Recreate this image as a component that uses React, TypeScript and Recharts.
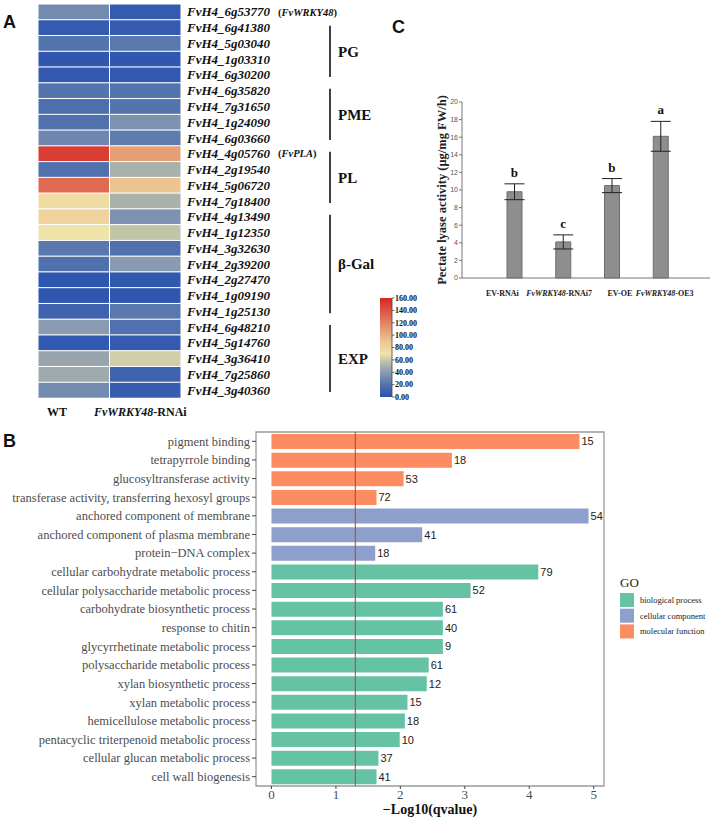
import {
  Bar,
  BarChart,
  Cell,
  ErrorBar,
  LabelList,
  ReferenceArea,
  ReferenceDot,
  ReferenceLine,
  XAxis,
  YAxis,
} from "recharts";

const SERIF = '"Liberation Serif", "Times New Roman", serif';
const SANS = '"Liberation Sans", Arial, sans-serif';

// ---- A: heatmap ----
const genes = [
  "FvH4_6g53770", "FvH4_6g41380", "FvH4_5g03040", "FvH4_1g03310", "FvH4_6g30200",
  "FvH4_6g35820", "FvH4_7g31650", "FvH4_1g24090", "FvH4_6g03660",
  "FvH4_4g05760", "FvH4_2g19540", "FvH4_5g06720", "FvH4_7g18400",
  "FvH4_4g13490", "FvH4_1g12350", "FvH4_3g32630", "FvH4_2g39200",
  "FvH4_2g27470", "FvH4_1g09190", "FvH4_1g25130",
  "FvH4_6g48210", "FvH4_5g14760", "FvH4_3g36410", "FvH4_7g25860", "FvH4_3g40360",
];
const wtValues = [32, 5, 20, 3, 4, 20, 17, 18, 30, 150, 18, 130, 75, 80, 70, 22, 18, 3, 3, 10, 40, 4, 45, 47, 32];
const rnaiValues = [5, 5, 22, 3, 4, 20, 20, 35, 24, 108, 50, 90, 50, 35, 58, 18, 40, 4, 3, 22, 18, 5, 62, 10, 6];
const geneNotes: Record<number, string> = { 0: "FvWRKY48", 9: "FvPLA" };
const geneGroups = [
  { name: "PG", from: 1, to: 4 },
  { name: "PME", from: 5, to: 8 },
  { name: "PL", from: 9, to: 12 },
  { name: "β-Gal", from: 13, to: 19 },
  { name: "EXP", from: 20, to: 24 },
];
const colorbarTicks = [0, 20, 40, 60, 80, 100, 120, 140, 160];

// ---- C: pectate lyase ----
const lyaseGroups = ["EV-RNAi", "FvWRKY48-RNAi7", "EV-OE", "FvWRKY48-OE3"];
const lyaseMeans = [9.8, 4.1, 10.5, 16.1];
const lyaseErrors = [0.9, 0.8, 0.8, 1.7];
const lyaseLetters = ["b", "c", "b", "a"];
const lyaseTicks = [0, 2, 4, 6, 8, 10, 12, 14, 16, 18, 20];

// ---- B: GO enrichment ----
const goTerms = [
  "pigment binding",
  "tetrapyrrole binding",
  "glucosyltransferase activity",
  "transferase activity, transferring hexosyl groups",
  "anchored component of membrane",
  "anchored component of plasma membrane",
  "protein−DNA complex",
  "cellular carbohydrate metabolic process",
  "cellular polysaccharide metabolic process",
  "carbohydrate biosynthetic process",
  "response to chitin",
  "glycyrrhetinate metabolic process",
  "polysaccharide metabolic process",
  "xylan biosynthetic process",
  "xylan metabolic process",
  "hemicellulose metabolic process",
  "pentacyclic triterpenoid metabolic process",
  "cellular glucan metabolic process",
  "cell wall biogenesis",
];
const goScores = [4.78, 2.8, 2.05, 1.63, 4.92, 2.34, 1.61, 4.14, 3.09, 2.66, 2.66, 2.66, 2.44, 2.41, 2.11, 2.07, 1.99, 1.66, 1.63];
const goCounts = [15, 18, 53, 72, 54, 41, 18, 79, 52, 61, 40, 9, 61, 12, 15, 18, 10, 37, 41];
const goCategories = [
  "molecular function", "molecular function", "molecular function", "molecular function",
  "cellular component", "cellular component", "cellular component",
  "biological process", "biological process", "biological process", "biological process",
  "biological process", "biological process", "biological process", "biological process",
  "biological process", "biological process", "biological process", "biological process",
];
const goLegend = ["biological process", "cellular component", "molecular function"];
const goTicks = [0, 1, 2, 3, 4, 5];
const qCutoff = -Math.log10(0.05);

const goColors: Record<string, string> = {
  "biological process": "#66c2a5",
  "cellular component": "#8da0cb",
  "molecular function": "#fc8d62",
};

const heatStops: [number, string][] = [
  [0, "#2a52b0"],
  [20, "#5474ae"],
  [40, "#8a9ab1"],
  [55, "#b7bca8"],
  [70, "#efe4a8"],
  [90, "#ecc48f"],
  [110, "#e69b72"],
  [130, "#df6a52"],
  [160, "#d42824"],
];

function hexToRgb(h: string) {
  return [1, 3, 5].map((k) => parseInt(h.slice(k, k + 2), 16));
}

function heatColor(v: number) {
  for (let k = 1; k < heatStops.length; k++) {
    const [v0, c0] = heatStops[k - 1];
    const [v1, c1] = heatStops[k];
    if (v <= v1) {
      const t = (v - v0) / (v1 - v0);
      const a = hexToRgb(c0);
      const b = hexToRgb(c1);
      const m = a.map((x, j) => Math.round(x + (b[j] - x) * t));
      return `rgb(${m[0]},${m[1]},${m[2]})`;
    }
  }
  return heatStops[heatStops.length - 1][1];
}

const HEAT_W = 143;
const HEAT_H = 394;
const rowH = HEAT_H / genes.length;

const heatData = genes.map((gene, i) => ({
  gene,
  wtCell: 1,
  rnaiCell: 1,
  wt: wtValues[i],
  rnai: rnaiValues[i],
}));

function GeneTick(props: any) {
  const { x, y, payload } = props;
  const i = genes.indexOf(payload.value);
  const note = geneNotes[i];
  const group = geneGroups.find((g) => g.from === i);
  const span = group ? (group.to - group.from) * rowH : 0;
  return (
    <g>
      <text x={x} y={y} dy="0.35em" fontFamily={SERIF} fontSize={13} fontWeight="bold" fontStyle="italic" fill="#111">
        {payload.value}
      </text>
      {note ? (
        <text x={x + 91} y={y} dy="0.35em" fontFamily={SERIF} fontSize={10.5} fontWeight="bold" fill="#111">
          (<tspan fontStyle="italic">{note}</tspan>)
        </text>
      ) : null}
      {group ? (
        <g>
          <line x1={x + 143} x2={x + 143} y1={y - 2} y2={y + span + 2} stroke="#111" strokeWidth={1.6} />
          <text x={x + 151} y={y + span / 2} dy="0.35em" fontFamily={SERIF} fontSize={15} fontWeight="bold" fill="#111">
            {group.name}
          </text>
        </g>
      ) : null}
    </g>
  );
}

function HeatmapPanel() {
  return (
    <BarChart
      layout="vertical"
      width={HEAT_W + 198}
      height={HEAT_H}
      data={heatData}
      margin={{ top: 0, right: 0, bottom: 0, left: 0 }}
      barCategoryGap={0}
    >
      <XAxis type="number" hide domain={[0, 2]} />
      <YAxis
        type="category"
        dataKey="gene"
        orientation="right"
        width={198}
        axisLine={false}
        tickLine={false}
        tickSize={0}
        tickMargin={6}
        interval={0}
        tick={(p: any) => <GeneTick {...p} />}
      />
      <Bar dataKey="wtCell" stackId="h" stroke="#fff" strokeWidth={1} isAnimationActive={false}>
        {heatData.map((d) => (
          <Cell key={d.gene} fill={heatColor(d.wt)} />
        ))}
      </Bar>
      <Bar dataKey="rnaiCell" stackId="h" stroke="#fff" strokeWidth={1} isAnimationActive={false}>
        {heatData.map((d) => (
          <Cell key={d.gene} fill={heatColor(d.rnai)} />
        ))}
      </Bar>
    </BarChart>
  );
}

const lyaseData = lyaseGroups.map((name, i) => ({
  name,
  mean: lyaseMeans[i],
  err: lyaseErrors[i],
}));
const lyaseLabelShift = [-12, -4, 8, 4];

function LyaseTick(props: any) {
  const { x, y, payload } = props;
  const name: string = payload.value;
  const i = lyaseGroups.indexOf(name);
  const m = name.match(/^(FvWRKY48)(.*)$/);
  return (
    <text x={x + lyaseLabelShift[i]} y={y} dy={10} textAnchor="middle" fontFamily={SERIF} fontSize={8} fontWeight="bold" fill="#222">
      {m ? (
        <>
          <tspan fontStyle="italic">{m[1]}</tspan>
          {m[2]}
        </>
      ) : (
        name
      )}
    </text>
  );
}

function LyasePanel() {
  return (
    <BarChart width={313} height={230} data={lyaseData} margin={{ top: 22, right: 3, bottom: 0, left: 0 }}>
      <XAxis
        dataKey="name"
        height={32}
        padding={{ left: 28, right: 25 }}
        axisLine={{ stroke: "#777" }}
        tickLine={false}
        tickSize={0}
        tickMargin={8}
        interval={0}
        tick={(p: any) => <LyaseTick {...p} />}
      />
      <YAxis
        width={62}
        domain={[0, 20]}
        ticks={lyaseTicks}
        axisLine={{ stroke: "#777" }}
        tickLine={{ stroke: "#777" }}
        tickSize={3}
        tickMargin={1}
        tick={{ fontSize: 7, fill: "#555", fontFamily: SANS }}
        label={(p: any) => {
          const vb = p.viewBox;
          const cx = vb.x + 42;
          const cy = vb.y + vb.height / 2;
          return (
            <text
              x={cx}
              y={cy}
              transform={`rotate(-90 ${cx} ${cy})`}
              textAnchor="middle"
              dominantBaseline="central"
              fontFamily={SERIF}
              fontSize={12.5}
              fontWeight="bold"
              fill="#222"
            >
              Pectate lyase activity (μg/mg FW/h)
            </text>
          );
        }}
      />
      <Bar dataKey="mean" barSize={15} fill="#8e8e8e" stroke="#6e6e6e" isAnimationActive={false}>
        <ErrorBar dataKey="err" width={10} stroke="#222" strokeWidth={1} />
      </Bar>
      {lyaseData.map((d, i) => (
        <ReferenceDot
          key={d.name}
          x={d.name}
          y={d.mean + d.err}
          r={1}
          fill="none"
          stroke="none"
          label={{
            value: lyaseLetters[i],
            position: "top",
            offset: 6,
            fill: "#111",
            fontSize: 13,
            fontWeight: "bold",
            fontFamily: SERIF,
          }}
        />
      ))}
    </BarChart>
  );
}

const goData = goTerms.map((term, i) => ({
  term,
  score: goScores[i],
  count: goCounts[i],
  category: goCategories[i],
}));

function TermTick(props: any) {
  const { x, y, payload } = props;
  return (
    <text x={x} y={y} dy="0.35em" textAnchor="end" fontFamily={SERIF} fontSize={12.5} fill="#4d4d4d">
      {payload.value}
    </text>
  );
}

function GoPanel() {
  return (
    <BarChart
      layout="vertical"
      width={610}
      height={394}
      data={goData}
      margin={{ top: 7, right: 6, bottom: 0, left: 0 }}
    >
      <XAxis
        type="number"
        domain={[-0.24, 5.16]}
        ticks={goTicks}
        allowDataOverflow
        height={33}
        axisLine={false}
        tickLine={{ stroke: "#444" }}
        tickSize={3}
        tickMargin={1}
        tick={{ fontSize: 13, fill: "#4d4d4d", fontFamily: SERIF }}
        label={{
          value: "−Log10(qvalue)",
          position: "insideBottom",
          offset: 5,
          fill: "#111",
          fontSize: 14,
          fontWeight: "bold",
          fontFamily: SERIF,
        }}
      />
      <YAxis
        type="category"
        dataKey="term"
        width={256}
        axisLine={false}
        tickLine={{ stroke: "#444" }}
        tickSize={4}
        tickMargin={2}
        interval={0}
        tick={(p: any) => <TermTick {...p} />}
      />
      <Bar dataKey="score" barSize={15} isAnimationActive={false}>
        {goData.map((d) => (
          <Cell key={d.term} fill={goColors[d.category]} />
        ))}
        <LabelList dataKey="count" position="right" offset={2} style={{ fontSize: 11, fill: "#222", fontFamily: SANS }} />
      </Bar>
      <ReferenceLine x={qCutoff} stroke="#d2322d" strokeWidth={1} />
      <ReferenceArea x1={-0.24} x2={5.16} fill="none" stroke="#9a9a9a" strokeWidth={1.3} ifOverflow="visible" />
    </BarChart>
  );
}

function Overlay() {
  return (
    <svg width={713} height={819} style={{ position: "absolute", left: 0, top: 0 }}>
      <defs>
        <linearGradient id="heatGrad" x1="0" y1="1" x2="0" y2="0">
          {heatStops.map(([v, c]) => (
            <stop key={v} offset={v / 160} stopColor={c} />
          ))}
        </linearGradient>
      </defs>
      <text x={3} y={28} fontFamily={SANS} fontSize={18} fontWeight="bold" fill="#111">A</text>
      <text x={3} y={447} fontFamily={SANS} fontSize={18} fontWeight="bold" fill="#111">B</text>
      <text x={392} y={33} fontFamily={SANS} fontSize={18} fontWeight="bold" fill="#111">C</text>

      <text x={47} y={416} fontFamily={SERIF} fontSize={12} fontWeight="bold" fill="#111">WT</text>
      <text x={94} y={416} fontFamily={SERIF} fontSize={12} fontWeight="bold" fill="#111">
        <tspan fontStyle="italic">FvWRKY48</tspan>-RNAi
      </text>

      <rect x={380} y={298} width={12} height={99} fill="url(#heatGrad)" />
      <line x1={392} x2={392} y1={298} y2={397} stroke="#444" strokeWidth={0.8} />
      {colorbarTicks.map((v) => {
        const ty = 397 - (v / 160) * 99;
        return (
          <g key={v}>
            <line x1={392} x2={394.5} y1={ty} y2={ty} stroke="#444" strokeWidth={0.8} />
            <text x={395} y={ty} dy="0.35em" fontFamily={SERIF} fontSize={8} fontWeight="bold" fill="#111">
              {v.toFixed(2)}
            </text>
          </g>
        );
      })}

      <text x={620} y={587} fontFamily={SERIF} fontSize={13} fill="#222">GO</text>
      {goLegend.map((c, i) => (
        <g key={c}>
          <rect x={620} y={593 + i * 15.7} width={14} height={14} fill={goColors[c]} />
          <text x={640} y={593 + i * 15.7 + 7} dy="0.35em" fontFamily={SERIF} fontSize={8.5} fill="#222">
            {c}
          </text>
        </g>
      ))}
    </svg>
  );
}

export default function App() {
  return (
    <div style={{ position: "absolute", left: 0, top: 0, width: 713, height: 819, background: "#fff" }}>
      <Overlay />
      <div style={{ position: "absolute", left: 38, top: 4 }}>
        <HeatmapPanel />
      </div>
      <div style={{ position: "absolute", left: 400, top: 80 }}>
        <LyasePanel />
      </div>
      <div style={{ position: "absolute", left: 0, top: 425 }}>
        <GoPanel />
      </div>
    </div>
  );
}
